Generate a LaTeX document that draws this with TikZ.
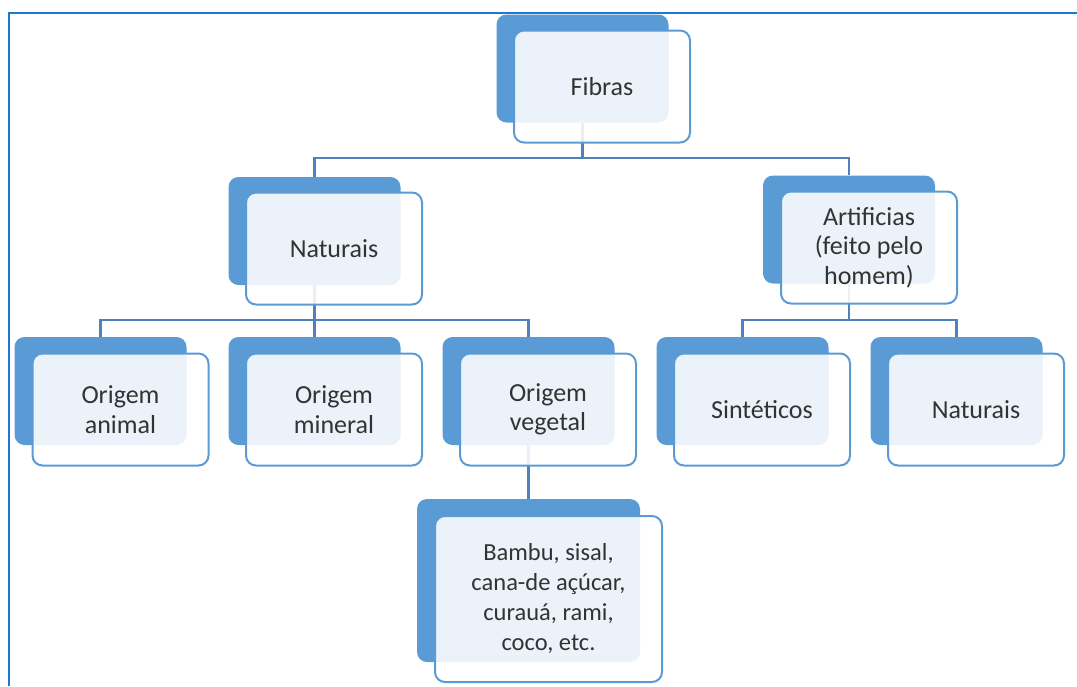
\documentclass[tikz,border=0pt]{standalone}
\usepackage{fontspec}
\setmainfont{Carlito}
\definecolor{darkfill}{HTML}{5B9BD5}
\definecolor{edge}{HTML}{5B9BD5}
\definecolor{conn}{HTML}{4F81BD}
\definecolor{frame}{HTML}{1E78D2}
\definecolor{txt}{HTML}{333333}
\tikzset{
  darkbox/.style={rectangle, rounded corners=10pt, fill=darkfill, draw=none,
    minimum width=172pt, minimum height=108pt, inner sep=0pt},
  lightbox/.style={rectangle, rounded corners=10pt, fill=white, fill opacity=0.88,
    text opacity=1, draw=edge, line width=2pt, minimum width=176pt, minimum height=112pt,
    inner sep=0pt, align=center, text=txt, font=\fontsize{26}{29.5}\selectfont},
  bigdark/.style={darkbox, minimum width=223pt, minimum height=163pt},
  biglight/.style={lightbox, minimum width=227pt, minimum height=166pt,
    font=\fontsize{24.5}{30}\selectfont},
  link/.style={draw=conn, line width=2.5pt},
  border/.style={draw=frame, line width=2pt}
}
\begin{document}
\begin{tikzpicture}[x=1pt,y=-1pt]
\useasboundingbox (0,0) rectangle (1077,686);
% frame
\coordinate (fA) at (8.5,686);
\coordinate (fB) at (8.5,12.5);
\coordinate (fC) at (1077,12.5);
\draw[border] (fA) -- (fB) -- (fC);
% bus coordinates
\coordinate (bus1) at (0,158);
\coordinate (bus2) at (0,320);
% dark boxes
\node[darkbox] (fibD) at (582.5,68.5) {};
\node[darkbox] (natD) at (314.5,231) {};
\node[darkbox] (artD) at (849,229.5) {};
\node[darkbox] (aniD) at (100.5,391) {};
\node[darkbox] (minD) at (314.5,391) {};
\node[darkbox] (vegD) at (528.5,391) {};
\node[darkbox] (sinD) at (742.5,391) {};
\node[darkbox] (narD) at (956.5,391) {};
\node[bigdark] (bamD) at (528.5,580.5) {};
% connectors
\draw[link] (fibD.south) -- (fibD.south |- bus1) -| (natD.north);
\draw[link] (fibD.south |- bus1) -| (artD.north);
\draw[link] (natD.south) -- (natD.south |- bus2) -| (aniD.north);
\draw[link] (natD.south |- bus2) -| (vegD.north);
\draw[link] (natD.south |- bus2) -- (minD.north);
\draw[link] (artD.south) -- (artD.south |- bus2) -| (sinD.north);
\draw[link] (artD.south |- bus2) -| (narD.north);
\draw[link] (vegD.south) -- (bamD.north);
% light boxes
\node[lightbox] (fib) at (602,86.5) {Fibras};
\node[lightbox] (nat) at (334,248.5) {Naturais};
\node[lightbox] (art) at (869,247.5) {Artificias\\(feito pelo\\homem)};
\node[lightbox] (ani) at (120.5,409.5) {Origem\\animal};
\node[lightbox] (min) at (334,409.5) {Origem\\mineral};
\node[lightbox] (veg) at (548,409.5) {Origem\\vegetal};
\node[lightbox] (sin) at (762,409.5) {Sintéticos};
\node[lightbox] (nar) at (976,409.5) {Naturais};
\node[biglight] (bam) at (548.5,599) {Bambu, sisal,\\cana-de açúcar,\\curauá, rami,\\coco, etc.};
\end{tikzpicture}
\end{document}
